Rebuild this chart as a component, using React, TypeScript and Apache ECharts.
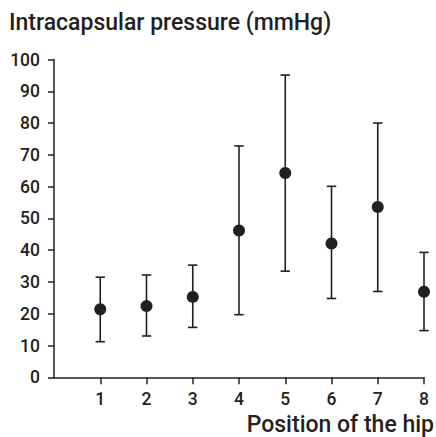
import React, { useEffect, useRef } from "react";
import * as echarts from "echarts";

const positions = [1, 2, 3, 4, 5, 6, 7, 8];
const means = [21.4, 22.4, 25.3, 46.2, 64.3, 42.1, 53.6, 26.9];
const lows = [11.2, 13.0, 15.7, 19.7, 33.4, 24.8, 27.0, 14.7];
const highs = [31.5, 32.2, 35.3, 72.8, 95.1, 60.1, 80.0, 39.3];
const yTicks = [0, 10, 20, 30, 40, 50, 60, 70, 80, 90, 100];

const INK = "#231f20";
const FONT = "Roboto, 'Liberation Sans', Arial, sans-serif";
const W = 500;

export default function App() {
  const ref = useRef<HTMLDivElement>(null);
  useEffect(() => {
    if (!ref.current) return;
    const chart = echarts.init(ref.current, null, { renderer: "svg" });
    const errData = positions.map((p, i) => [p, lows[i], highs[i]]);
    const meanData = positions.map((p, i) => [p, means[i]]);
    chart.setOption({
      animation: false,
      backgroundColor: "#ffffff",
      title: [
        {
          text: "Intracapsular pressure (mmHg)",
          left: 9,
          top: 11,
          padding: 0,
          textStyle: { fontFamily: FONT, fontSize: 23, fontWeight: W, color: INK },
        },
        {
          text: "Position of the hip",
          right: 2,
          top: 413,
          padding: 0,
          textStyle: { fontFamily: FONT, fontSize: 23, fontWeight: W, color: INK },
        },
      ],
      grid: { left: 54, right: 12, top: 59.5, bottom: 59.7, containLabel: false },
      xAxis: {
        type: "value",
        min: 0,
        max: 8,
        interval: 1,
        splitLine: { show: false },
        axisLine: { show: true, lineStyle: { color: INK, width: 1.5 } },
        axisTick: { show: true, length: 7, customValues: positions, lineStyle: { color: INK, width: 1.5 } },
        axisLabel: {
          customValues: positions,
          margin: 13,
          fontFamily: FONT,
          fontSize: 17.5,
          fontWeight: W,
          color: INK,
        },
      },
      yAxis: {
        type: "value",
        min: 0,
        max: 100,
        interval: 10,
        splitLine: { show: false },
        axisLine: { show: true, lineStyle: { color: INK, width: 1.5 } },
        axisTick: { show: true, length: 6, customValues: yTicks, lineStyle: { color: INK, width: 1.5 } },
        axisLabel: {
          customValues: yTicks,
          margin: 14,
          fontFamily: FONT,
          fontSize: 17.5,
          fontWeight: W,
          color: INK,
        },
      },
      series: [
        {
          type: "custom",
          data: errData,
          renderItem: (params: any, api: any) => {
            const x = api.value(0);
            const lo = api.coord([x, api.value(1)]);
            const hi = api.coord([x, api.value(2)]);
            const hw = 4.7;
            const style = { stroke: INK, lineWidth: 1.6 };
            return {
              type: "group",
              children: [
                { type: "line", shape: { x1: lo[0], y1: lo[1], x2: hi[0], y2: hi[1] }, style },
                { type: "line", shape: { x1: hi[0] - hw, y1: hi[1], x2: hi[0] + hw, y2: hi[1] }, style },
                { type: "line", shape: { x1: lo[0] - hw, y1: lo[1], x2: lo[0] + hw, y2: lo[1] }, style },
              ],
            };
          },
          z: 2,
        },
        {
          type: "scatter",
          data: meanData,
          symbol: "circle",
          symbolSize: 12,
          itemStyle: { color: INK, opacity: 1 },
          z: 3,
        },
      ],
    });
    return () => chart.dispose();
  }, []);
  return <div ref={ref} style={{ width: 436, height: 437, position: "absolute", left: 0, top: 0 }} />;
}
